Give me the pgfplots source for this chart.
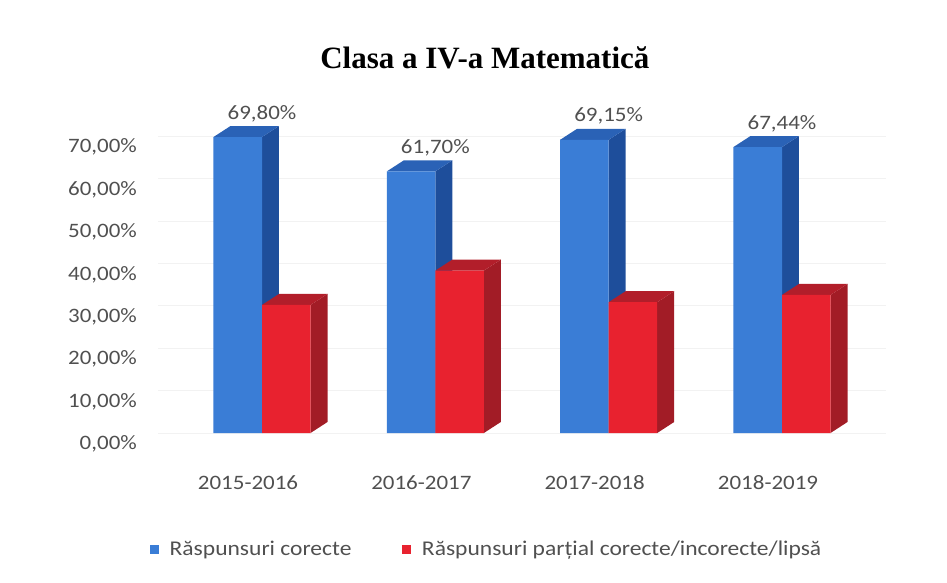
\documentclass[border=0pt]{standalone}
\usepackage{fontspec}
\usepackage{pgfplots}
\usepackage{pgfplotstable}
\pgfplotsset{compat=1.18}
\setmainfont{Carlito}[FakeStretch=1.12]
\newfontfamily\titlefont{Liberation Serif}

\definecolor{bluefront}{RGB}{58,125,214}
\definecolor{blueside}{RGB}{30,78,155}
\definecolor{bluetop}{RGB}{42,98,182}
\definecolor{redfront}{RGB}{232,34,47}
\definecolor{redside}{RGB}{162,28,38}
\definecolor{redtop}{RGB}{178,30,42}
\definecolor{labelgray}{RGB}{80,80,80}

% share of answers per school year (%)
\pgfplotstableread{
x blue red
0 69.80 30.20
1 61.70 38.30
2 69.15 30.85
3 67.44 32.56
}\scores

\def\bw{0.28}  % bar width, axis units
\def\dx{0.098} % depth, x units
\def\dy{2.6}   % depth, y units

% side and top face of one bar: #1 left x, #2 right x, #3 value, #4 side colour, #5 top colour
\newcommand{\barfaces}[5]{%
  \pgfmathsetmacro\xl{#1}\pgfmathsetmacro\xr{#2}%
  \pgfmathsetmacro\xld{#1+\dx}\pgfmathsetmacro\xrd{#2+\dx}%
  \pgfmathsetmacro\vt{#3+\dy}%
  \edef\cmd{%
    \noexpand\addplot[fill=#4, draw=none, forget plot] coordinates {(\xr,0) (\xrd,\dy) (\xrd,\vt) (\xr,#3)};
    \noexpand\addplot[fill=#5, draw=none, forget plot] coordinates {(\xl,#3) (\xr,#3) (\xrd,\vt) (\xld,\vt)};
  }\cmd}

\begin{document}
\begin{tikzpicture}
\useasboundingbox (0,0) rectangle (947pt,-583pt);
\begin{axis}[
    at={(158pt,-433pt)}, anchor=south west,
    scale only axis, width=728pt, height=339.2pt,
    xmin=-0.6, xmax=3.6, ymin=0, ymax=80,
    clip=false,
    axis line style={draw=none},
    tick style={draw=none},
    major tick length=0pt,
    xtick={0,1,2,3},
    xticklabels={2015-2016,2016-2017,2017-2018,2018-2019},
    ytick={0,10,...,70},
    yticklabels={{0,00\%},{10,00\%},{20,00\%},{30,00\%},{40,00\%},{50,00\%},{60,00\%},{70,00\%}},
    every tick label/.append style={font=\fontsize{20.5}{24}\selectfont, text=labelgray, inner sep=0pt},
    yticklabel style={anchor=east, xshift=-21pt, yshift=-11pt},
    xticklabel style={anchor=north, xshift=-14pt, yshift=-42pt},
    ymajorgrids=true,
    grid style={draw=gray!10, line width=0.8pt},
    /pgf/number format/assume math mode=true,
    title={Clasa a IV-a Matematică},
    title style={at={(axis description cs:0.449,1.088)}, anchor=center, inner sep=0pt,
        font=\titlefont\bfseries\fontsize{31}{36}\selectfont},
    legend columns=2,
    legend style={at={(axis description cs:-0.011,-0.342)}, anchor=west,
        draw=none, fill=none, inner sep=0pt,
        nodes={inner sep=0pt}, text=labelgray,
        font=\fontsize{21}{25}\selectfont,
        /tikz/every odd column/.append style={column sep=11pt},
        /tikz/every even column/.append style={column sep=51pt}},
]

% blue bars: sides and tops, then fronts
\pgfplotsinvokeforeach{0,1,2,3}{
  \pgfplotstablegetelem{#1}{blue}\of\scores
  \let\vb\pgfplotsretval
  \pgfmathsetmacro\xa{#1-\bw}
  \barfaces{\xa}{#1}{\vb}{blueside}{bluetop}
}
\addplot[ybar, bar width=\bw, bar shift=-0.14, fill=bluefront, draw=none,
    legend image code/.code={\fill[bluefront] (0pt,-4.5pt) rectangle (8.5pt,4.5pt);},
    nodes near coords={\pgfmathprintnumber[fixed, fixed zerofill, precision=2, use comma]{\pgfplotspointmeta}\%},
    every node near coord/.append style={anchor=south, inner sep=0pt, yshift=15pt,
        font=\fontsize{20.5}{24}\selectfont, text=labelgray}]
    table[x=x, y=blue] {\scores};
\addlegendentry{Răspunsuri corecte}

% red bars
\pgfplotsinvokeforeach{0,1,2,3}{
  \pgfplotstablegetelem{#1}{red}\of\scores
  \let\vr\pgfplotsretval
  \pgfmathsetmacro\xa{#1+\bw}
  \barfaces{#1}{\xa}{\vr}{redside}{redtop}
}
\addplot[ybar, bar width=\bw, bar shift=0.14, fill=redfront, draw=none,
    legend image code/.code={\fill[redfront] (0pt,-4.5pt) rectangle (8.5pt,4.5pt);}]
    table[x=x, y=red] {\scores};
\addlegendentry{Răspunsuri parțial corecte/incorecte/lipsă}

\end{axis}
\end{tikzpicture}
\end{document}
